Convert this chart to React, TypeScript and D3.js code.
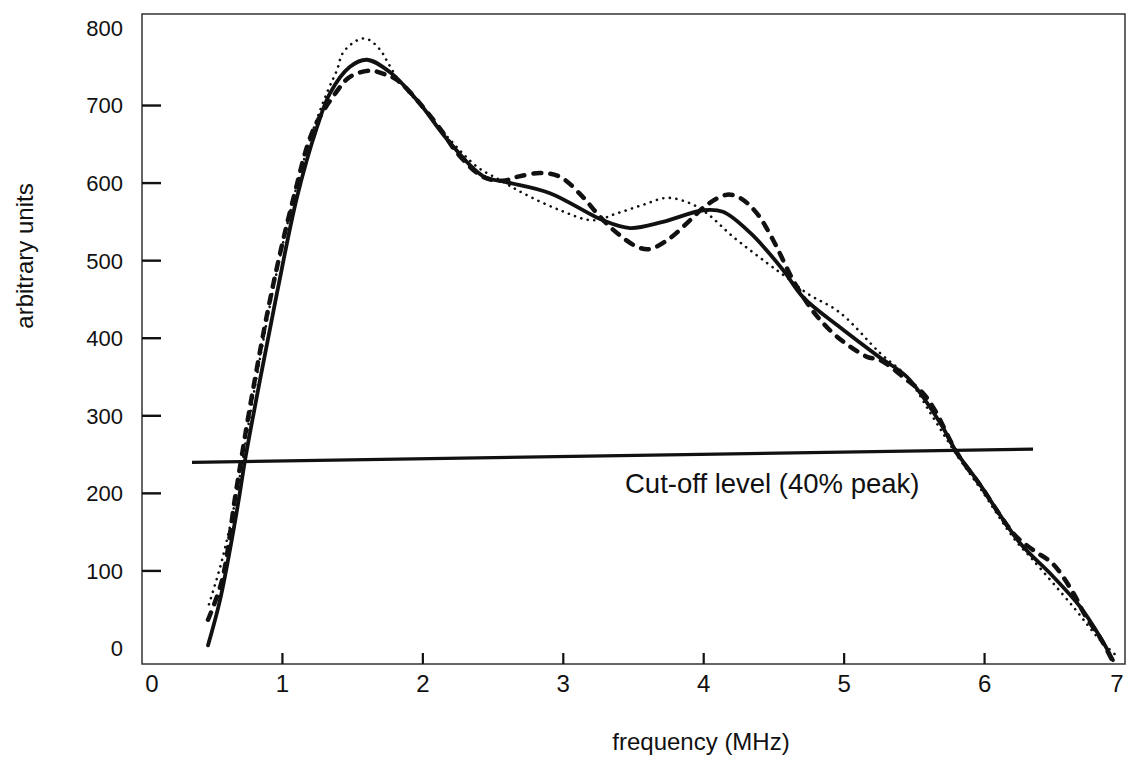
import React from 'react';
import * as d3 from 'd3';

// Axis ticks
const xTickValues = [0, 1, 2, 3, 4, 5, 6, 7];
const xTickMarks = [1, 2, 3, 4, 5, 6];
const yTickValues = [0, 100, 200, 300, 400, 500, 600, 700, 800];
const yTickMarks = [100, 200, 300, 400, 500, 600, 700];

// Solid curve
const solidFreq = [0.47, 0.555, 0.648, 0.698, 0.733, 0.84, 0.961, 1.104, 1.246, 1.339, 1.481, 1.602, 1.766, 1.958, 2.193, 2.428, 2.599, 2.905, 3.283, 3.475, 3.71, 3.995, 4.137, 4.33, 4.565, 4.707, 4.97, 5.255, 5.448, 5.683, 5.804, 5.946, 6.252, 6.466, 6.68, 6.822, 6.914];
const solidVal = [4, 62, 149, 202, 242, 346, 458, 582, 672, 716, 750, 759, 743, 707, 652, 609, 601, 587, 552, 542, 550, 565, 563, 536, 488, 453, 414, 375, 350, 291, 252, 217, 136, 97, 54, 15, -15];

// Dashed curve
const dashedFreq = [0.47, 0.57, 0.669, 0.79, 0.926, 1.075, 1.218, 1.374, 1.481, 1.624, 1.716, 1.816, 2.001, 2.143, 2.243, 2.428, 2.571, 2.67, 2.834, 2.977, 3.14, 3.24, 3.354, 3.525, 3.617, 3.76, 3.902, 4.023, 4.166, 4.258, 4.379, 4.493, 4.636, 4.757, 4.828, 4.949, 5.163, 5.255, 5.448, 5.562, 5.647, 5.804, 5.967, 6.217, 6.345, 6.487, 6.63, 6.715, 6.822, 6.914];
const dashedVal = [37, 88, 202, 333, 462, 578, 668, 715, 737, 745, 741, 733, 698, 665, 639, 608, 603, 608, 613, 608, 582, 561, 540, 518, 515, 529, 552, 572, 585, 581, 561, 527, 475, 440, 424, 402, 376, 372, 346, 329, 307, 252, 211, 146, 127, 109, 72, 43, 14, -17];

// Dotted curve
const dottedFreq = [0.477, 0.57, 0.677, 0.798, 0.933, 1.082, 1.218, 1.325, 1.389, 1.431, 1.531, 1.602, 1.695, 1.752, 1.837, 1.98, 2.193, 2.386, 2.549, 2.713, 2.977, 3.212, 3.382, 3.568, 3.739, 3.902, 4.023, 4.208, 4.451, 4.593, 4.735, 4.97, 5.255, 5.448, 5.633, 5.804, 5.967, 6.217, 6.345, 6.63, 6.822, 6.95];
const dottedVal = [57, 114, 202, 331, 462, 582, 668, 720, 746, 768, 784, 786, 772, 755, 730, 701, 656, 621, 604, 587, 565, 552, 561, 572, 581, 574, 561, 531, 497, 478, 458, 433, 381, 350, 298, 249, 207, 140, 114, 54, 11, -11];

// Cut-off level line
const cutFreq = [0.356, 6.345];
const cutVal = [240, 257];

const FONT = "'Liberation Sans', Arial, Helvetica, sans-serif";

export default function App() {
  const W = 1127;
  const H = 763;
  const x = d3.scaleLinear().domain([0, 7]).range([142, 1125]);
  const y = d3.scaleLinear().domain([-20, 818]).range([664, 14]);

  const line = d3
    .line<[number, number]>()
    .x((d) => x(d[0]))
    .y((d) => y(d[1]))
    .curve(d3.curveCatmullRom.alpha(0.5));

  const zip = (a: number[], b: number[]) => a.map((v, i) => [v, b[i]] as [number, number]);

  const [x0, x1] = x.range();
  const [y0, y1] = y.range();
  const labelX = (v: number) => Math.min(Math.max(x(v), x0 + 10), x1 - 8);

  return (
    <svg
      width={W}
      height={H}
      style={{ position: 'absolute', left: 0, top: 0, background: '#fff' }}
      fontFamily={FONT}
    >
      <rect x={0} y={0} width={W} height={H} fill="#fff" />
      {/* frame */}
      <rect x={x0} y={y1} width={x1 - x0} height={y0 - y1} fill="none" stroke="#333" strokeWidth={1.5} />

      {/* y ticks */}
      {yTickMarks.map((v) => (
        <line key={'yt' + v} x1={x0} x2={x0 + 19} y1={y(v)} y2={y(v)} stroke="#111" strokeWidth={2.4} />
      ))}
      {yTickValues.map((v) => (
        <text key={'yl' + v} x={123} y={y(v)} dy="0.36em" textAnchor="end" fontSize={22} fill="#111">
          {v}
        </text>
      ))}

      {/* x ticks */}
      {xTickMarks.map((v) => (
        <line key={'xt' + v} x1={x(v)} x2={x(v)} y1={y0} y2={y0 - 11} stroke="#111" strokeWidth={2.2} />
      ))}
      {xTickValues.map((v) => (
        <text key={'xl' + v} x={labelX(v)} y={692} textAnchor="middle" fontSize={24} fill="#111">
          {v}
        </text>
      ))}

      {/* axis titles */}
      <text x={701} y={750} textAnchor="middle" fontSize={24} fill="#111">
        frequency (MHz)
      </text>
      <text
        transform={`translate(33, 256) rotate(-90)`}
        textAnchor="middle"
        fontSize={24}
        fill="#111"
      >
        arbitrary units
      </text>

      {/* cut-off line */}
      <path d={line(zip(cutFreq, cutVal)) || ''} fill="none" stroke="#111" strokeWidth={3.2} />
      <text x={625} y={493} fontSize={27.5} fill="#111">
        Cut-off level (40% peak)
      </text>

      {/* curves */}
      <path
        d={line(zip(dottedFreq, dottedVal)) || ''}
        fill="none"
        stroke="#111"
        strokeWidth={2.6}
        strokeDasharray="0.1 6.5"
        strokeLinecap="round"
      />
      <path
        d={line(zip(dashedFreq, dashedVal)) || ''}
        fill="none"
        stroke="#111"
        strokeWidth={4.5}
        strokeDasharray="8 9"
        strokeLinecap="round"
      />
      <path
        d={line(zip(solidFreq, solidVal)) || ''}
        fill="none"
        stroke="#111"
        strokeWidth={3.8}
        strokeLinecap="round"
      />
    </svg>
  );
}
